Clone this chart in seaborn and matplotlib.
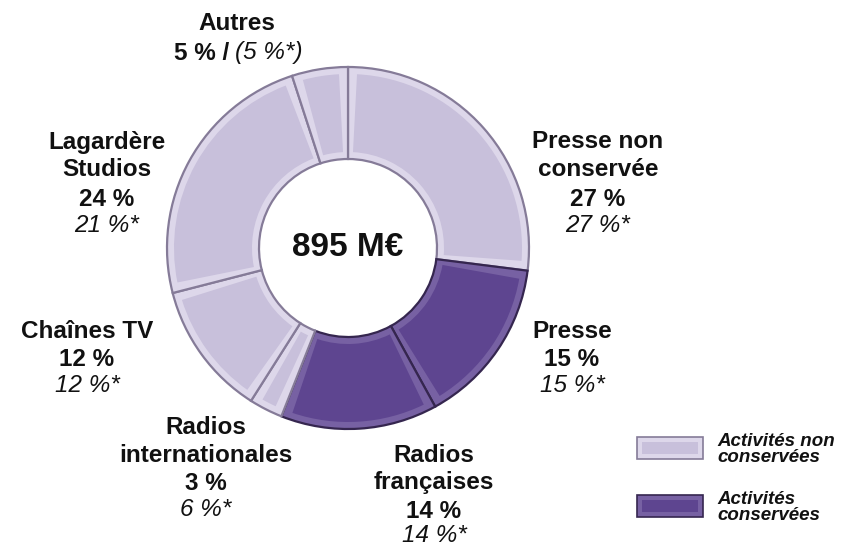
import numpy as np
import matplotlib
matplotlib.use("Agg")
import matplotlib.pyplot as plt
from matplotlib.patches import Wedge, Rectangle
import seaborn as sns

# segments, clockwise from 12 o'clock
segments = ["Presse non conservée", "Presse", "Radios françaises", "Radios internationales",
            "Chaînes TV", "Lagardère Studios", "Autres"]
shares = [27, 15, 14, 3, 12, 24, 5]
shares_prev = [27, 15, 14, 6, 12, 21, 5]
kept = [False, True, True, False, False, False, False]
total_label = "895 M€"

light_face, light_rim, light_edge = "#c8c0db", "#ddd7ea", "#857b98"
dark_face, dark_rim, dark_edge = "#5e4590", "#7761a3", "#35264f"

sns.set_theme(style="white")
plt.rcParams["font.family"] = ["Liberation Sans", "DejaVu Sans"]

W, H = 850, 547
fig = plt.figure(figsize=(8.5, 5.47), dpi=100)
ax = fig.add_axes([0, 0, 1, 1])

cx, cy = 348, H - 248
r_out, ring = 181, 92

face_cols = [dark_rim if k else light_rim for k in kept]
edge_cols = [dark_edge if k else light_edge for k in kept]
wedges, _ = ax.pie(shares, colors=face_cols, startangle=90, counterclock=False,
                   radius=r_out, center=(cx, cy), frame=True,
                   wedgeprops=dict(width=ring, linewidth=1.6))
for w, ec in zip(wedges, edge_cols):
    w.set_edgecolor(ec)

# inner flat face to fake the bevel
inset = 7
for w, k in zip(wedges, kept):
    span = w.theta2 - w.theta1
    da = min(np.degrees(inset / (r_out - ring / 2)), span * 0.3)
    ax.add_patch(Wedge((cx, cy), r_out - inset, w.theta1 + da, w.theta2 - da,
                       width=ring - 2 * inset, facecolor=dark_face if k else light_face,
                       edgecolor="none", zorder=3))

ax.set_xlim(0, W)
ax.set_ylim(0, H)
ax.set_aspect("equal")
ax.axis("off")

ax.text(cx, cy, total_label, ha="center", va="center", fontsize=24, fontweight="bold",
        color="#111111", zorder=5)

FS = 17.5

def block(x, ys, lines):
    for y, (txt, style) in zip(ys, lines):
        ax.text(x, H - y, txt, ha="center", va="center", fontsize=FS,
                fontweight="bold" if style == "b" else "normal",
                fontstyle="italic" if style == "i" else "normal", color="#111111")

def pct(v):
    return f"{v} %"

def pct_prev(v):
    return f"{v} %*"

block(237, [23], [("Autres", "b")])
ax.text(229, H - 53, pct(shares[6]) + " /", ha="right", va="center", fontsize=FS,
        fontweight="bold", color="#111111")
ax.text(235, H - 53, "(" + pct_prev(shares_prev[6]) + ")", ha="left", va="center",
        fontsize=FS, fontstyle="italic", color="#111111")
rows_top = [142, 170, 199, 226]
block(107, rows_top, [("Lagardère", "b"), ("Studios", "b"),
                      (pct(shares[5]), "b"), (pct_prev(shares_prev[5]), "i")])
block(598, rows_top, [("Presse non", "b"), ("conservée", "b"),
                      (pct(shares[0]), "b"), (pct_prev(shares_prev[0]), "i")])
rows_mid = [331, 359, 386]
block(87, rows_mid, [("Chaînes TV", "b"), (pct(shares[4]), "b"), (pct_prev(shares_prev[4]), "i")])
block(572, rows_mid, [("Presse", "b"), (pct(shares[1]), "b"), (pct_prev(shares_prev[1]), "i")])
block(206, [427, 455, 484, 509], [("Radios", "b"), ("internationales", "b"),
                                  (pct(shares[3]), "b"), (pct_prev(shares_prev[3]), "i")])
block(434, [455, 483, 511, 535], [("Radios", "b"), ("françaises", "b"),
                                  (pct(shares[2]), "b"), (pct_prev(shares_prev[2]), "i")])

# legend swatches
for (y_top, face, rim, edge, lab) in [(437, light_face, light_rim, light_edge, ["Activités non", "conservées"]),
                                       (495, dark_face, dark_rim, dark_edge, ["Activités", "conservées"])]:
    ax.add_patch(Rectangle((637, H - y_top - 22), 66, 22, facecolor=rim, edgecolor=edge, lw=1.2))
    ax.add_patch(Rectangle((642, H - y_top - 17), 56, 12, facecolor=face, edgecolor="none"))
    ax.text(717, H - (y_top + 4), lab[0], ha="left", va="center", fontsize=13.5,
            fontweight="bold", fontstyle="italic", color="#111111")
    ax.text(717, H - (y_top + 21), lab[1], ha="left", va="center", fontsize=13.5,
            fontweight="bold", fontstyle="italic", color="#111111")

fig.savefig("out.png", dpi=100)
